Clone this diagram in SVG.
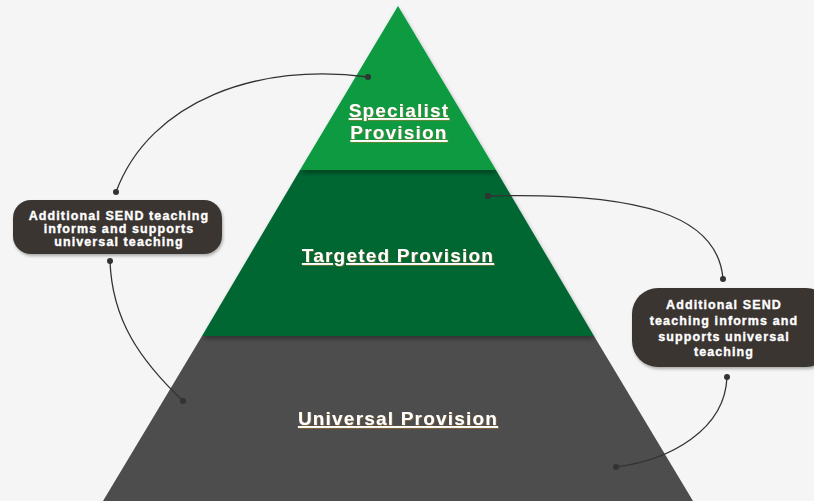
<svg xmlns="http://www.w3.org/2000/svg" width="814" height="501" viewBox="0 0 814 501">
<defs>
<filter id="bandShadow" x="-10%" y="-10%" width="120%" height="130%">
<feDropShadow dx="1" dy="3" stdDeviation="2" flood-color="#000" flood-opacity="0.35"/>
</filter>
<filter id="boxShadow" x="-10%" y="-10%" width="120%" height="140%">
<feDropShadow dx="1" dy="2" stdDeviation="1.5" flood-color="#000" flood-opacity="0.3"/>
</filter>
<filter id="txtShadow" x="-5%" y="-20%" width="110%" height="150%">
<feDropShadow dx="0.7" dy="0.7" stdDeviation="0.3" flood-color="#a8782a" flood-opacity="0.8"/>
</filter>
</defs>
<style>
.lvl{font-family:"Liberation Sans",Arial,sans-serif;font-weight:bold;font-size:19px;letter-spacing:1.2px;fill:#fff;text-anchor:middle;text-decoration:underline;}
.box{fill:#3a3632;}
.btxt{font-family:"Liberation Sans",Arial,sans-serif;font-weight:bold;font-size:12.5px;letter-spacing:1.1px;fill:#fff;stroke:#fff;stroke-width:0.35;text-anchor:middle;}
.con{fill:none;stroke:#333;stroke-width:1.3;}
.dot{fill:#333;}
</style>
<rect x="0" y="0" width="814" height="501" fill="#f5f5f5"/>
<g id="universal">
<polygon points="202,336 594,336 693,501 103,501" fill="#4d4d4d"/>
<text class="lvl" x="398" y="425" filter="url(#txtShadow)">Universal Provision</text>
</g>
<g id="targeted">
<polygon points="300,170 496,170 594,336 202,336" fill="#006633" filter="url(#bandShadow)"/>
<text class="lvl" x="398" y="262" filter="url(#txtShadow)">Targeted Provision</text>
</g>
<g id="specialist">
<polygon points="398,6 496,170 300,170" fill="#079a3f" filter="url(#bandShadow)"/>
<text class="lvl" x="399" y="117" filter="url(#txtShadow)">Specialist</text>
<text class="lvl" x="399" y="139" filter="url(#txtShadow)">Provision</text>
</g>
<g id="callout-left">
<rect class="box" x="13" y="200" width="209" height="54" rx="18" filter="url(#boxShadow)"/>
<text class="btxt" x="119" y="219.5">Additional SEND teaching</text>
<text class="btxt" x="119" y="232.5">informs and supports</text>
<text class="btxt" x="119" y="245.5">universal teaching</text>
</g>
<g id="callout-right">
<rect class="box" x="632" y="288" width="200" height="79" rx="26" filter="url(#boxShadow)"/>
<text class="btxt" x="724" y="309">Additional SEND</text>
<text class="btxt" x="724" y="325">teaching informs and</text>
<text class="btxt" x="724" y="340.5">supports universal</text>
<text class="btxt" x="724" y="356">teaching</text>
</g>
<g id="connectors">
<path class="con" d="M116,192 C150,100 260,62 368,77"/>
<circle class="dot" cx="116" cy="192" r="3"/>
<circle class="dot" cx="368" cy="77" r="3"/>
<path class="con" d="M488,196 C640,192 718,215 723,279"/>
<circle class="dot" cx="488" cy="196" r="3"/>
<circle class="dot" cx="723" cy="279" r="3"/>
<path class="con" d="M110,261 C112,320 140,360 183,401"/>
<circle class="dot" cx="110" cy="261" r="3"/>
<circle class="dot" cx="183" cy="401" r="3"/>
<path class="con" d="M727,377 C725,430 670,460 616,467"/>
<circle class="dot" cx="727" cy="377" r="3"/>
<circle class="dot" cx="616" cy="467" r="3"/>
</g>
</svg>
